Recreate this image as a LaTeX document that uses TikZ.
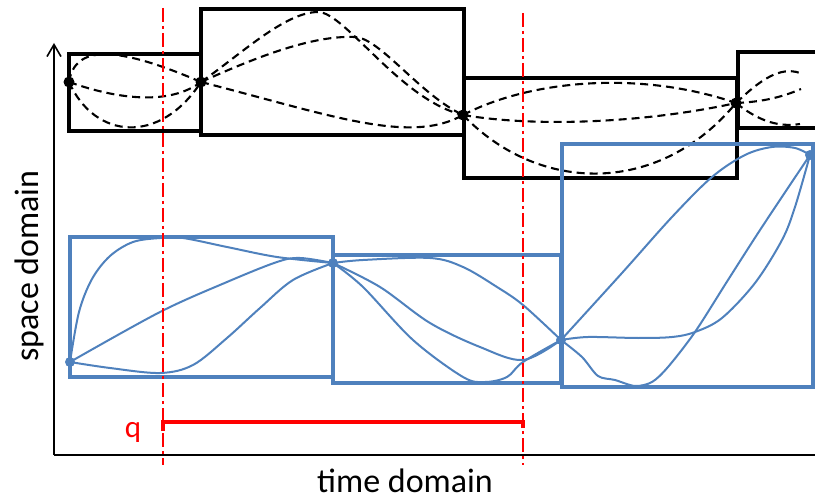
\documentclass[tikz,border=0pt]{standalone}
\usepackage{fontspec}
\setmainfont{Carlito}
\usetikzlibrary{arrows.meta}
\definecolor{ublue}{RGB}{79,129,189}
\begin{document}
\begin{tikzpicture}[x=1pt,y=-1pt,
  blackbox/.style={line width=3.6pt, black},
  bluebox/.style={line width=3.6pt, ublue},
  bcurve/.style={line width=2.1pt, dash pattern=on 8pt off 5pt},
  ucurve/.style={line width=2pt, ublue},
  redline/.style={red, line width=1.8pt, dash pattern=on 14pt off 4pt on 3pt off 4pt},
  axis/.style={line width=1.8pt},
  lbl/.style={font=\fontsize{34}{40}\selectfont, inner sep=0pt, anchor=base}]
\useasboundingbox (0,0) rectangle (815,500);
% coordinates
\coordinate (O) at (54,455);
\coordinate (Ytop) at (54,43);
\coordinate (Xend) at (815,455);
\coordinate (A) at (69,82);
\coordinate (B) at (201,82);
\coordinate (C) at (463,115);
\coordinate (D) at (736,103);
\coordinate (D1) at (800,73);
\coordinate (D2) at (801,89);
\coordinate (D3) at (800,124);
\coordinate (P1) at (70,362);
\coordinate (P2) at (333,263);
\coordinate (P3) at (561,340);
\coordinate (P4) at (810,155);
\coordinate (R1t) at (163,8);
\coordinate (R1b) at (163,465);
\coordinate (R2t) at (523,13);
\coordinate (R2b) at (523,465);
\coordinate (Q1) at (163,431);
\coordinate (Q2) at (523,428);
% axes
\draw[axis] (Xend) -- (O);
\draw[axis, -{Straight Barb[length=12pt,width=14pt,line width=1.6pt]}] (O) -- (Ytop);
% black boxes
\draw[blackbox] (69,54) rectangle (201,131);
\draw[blackbox] (201,9) rectangle (464,135);
\draw[blackbox] (464,78) rectangle (737,178);
\draw[blackbox] (850,52) -- (738,52) -- (738,128) -- (850,128);
% black dashed curves
\draw[bcurve] (A) .. controls (75,45) and (115,45) .. (B);
\draw[bcurve] (A) .. controls (120,100) and (170,105) .. (B);
\draw[bcurve] (A) .. controls (95,140) and (160,145) .. (B);
\draw[bcurve] (B) .. controls (240,55) and (285,12) .. (318,12) .. controls (345,12) and (400,100) .. (C);
\draw[bcurve] (B) .. controls (250,60) and (310,35) .. (355,37) .. controls (380,38) and (420,95) .. (C);
\draw[bcurve] (B) .. controls (330,115) and (410,145) .. (C);
\draw[bcurve] (C) .. controls (530,80) and (640,70) .. (D);
\draw[bcurve] (C) .. controls (540,128) and (650,122) .. (D);
\draw[bcurve] (C) .. controls (540,195) and (660,195) .. (D);
\draw[bcurve] (D) .. controls (760,80) and (780,66) .. (D1);
\draw[bcurve] (D) .. controls (760,102) and (780,98) .. (D2);
\draw[bcurve] (D) .. controls (755,118) and (775,128) .. (D3);
\foreach \p in {A,B,C,D} \fill (\p) circle (5.5pt);
% blue boxes
\draw[bluebox] (70,237) rectangle (333,377);
\draw[bluebox] (333,255) rectangle (561,383);
\draw[bluebox] (562,144) rectangle (813,387);
% blue curves
\draw[ucurve] plot[smooth, tension=0.55] coordinates {(P1) (79,312) (92,279) (110,256) (133,242) (160,238) (183,238) (227,247) (277,257) (P2)};
\draw[ucurve] plot[smooth, tension=0.55] coordinates {(P1) (160,312) (227,282) (277,262) (300,258) (P2)};
\draw[ucurve] plot[smooth, tension=0.55] coordinates {(P1) (110,368) (160,373) (193,365) (227,338) (260,308) (293,280) (P2)};
\draw[ucurve] plot[smooth, tension=0.55] coordinates {(P2) (363,260) (430,258) (463,267) (497,287) (523,305) (P3)};
\draw[ucurve] plot[smooth, tension=0.55] coordinates {(P2) (380,287) (430,323) (480,347) (523,360) (P3)};
\draw[ucurve] plot[smooth, tension=0.55] coordinates {(P2) (363,287) (413,340) (463,377) (485,382) (507,377) (523,362) (P3)};
\draw[ucurve] plot[smooth, tension=0.55] coordinates {(P3) (622,273) (672,217) (712,177) (745,155) (772,147) (795,148) (P4)};
\draw[ucurve] plot[smooth, tension=0.5] coordinates {(P3) (582,357) (598,376) (615,380) (635,386) (652,382) (668,367) (695,332) (728,280) (762,227) (P4)};
\draw[ucurve] plot[smooth, tension=0.55] coordinates {(P3) (588,337) (638,338) (672,337) (695,332) (722,318) (755,283) (782,240) (795,207) (P4)};
\foreach \p in {P1,P2,P3,P4} \fill[ublue] (\p) circle (5pt);
% red lines
\draw[redline] (R1t) -- (R1b);
\draw[redline] (R2t) -- (R2b);
\draw[red, line width=3.5pt] (Q1) |- (Q2 |- 0,422) -- (Q2);
% labels
\node[lbl] (tlab) at (405,492) {time domain};
\node[lbl, rotate=90] (slab) at (38,266) {space domain};
\node[lbl, text=red, font=\fontsize{31}{37}\selectfont] (qlab) at (133,437) {q};
\end{tikzpicture}
\end{document}
